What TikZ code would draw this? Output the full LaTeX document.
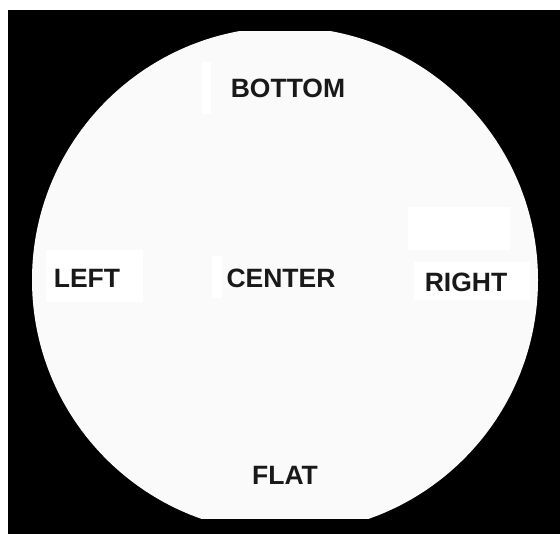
\documentclass[tikz,border=0pt]{standalone}
\usepackage{fontspec}
\setmainfont{Liberation Sans}
\definecolor{waferwhite}{HTML}{FAFAFA}

\begin{document}
\begin{tikzpicture}[x=1pt, y=-1pt,
	   lbl/.style={font=\fontsize{26.5}{30}\selectfont\bfseries, inner sep=0pt, text=black!90},
	   patch/.style={fill=white, draw=none}]
	  % frame: thin white margin, black field
	  \fill[white] (0,0) rectangle (560,534);
	  \fill[black] (8,10) rectangle (560,534);
	  % wafer with the two flats
	  \begin{scope}
	    \clip (0,32) rectangle (560,519);
	    \fill[waferwhite] (285,280) circle (253);
	  \end{scope}
	  % bleached patches round the labels
	  \fill[patch] (202,62) rectangle (211,114);
	  \fill[patch] (46,250) rectangle (143,302);
	  \fill[patch] (408,207) rectangle (510,250);
	  \fill[patch] (414,262) rectangle (530,300);
	  \fill[patch] (212,256) rectangle (222,298);
	  \node[lbl] (bottom) at (288,88) {BOTTOM};
	  \node[lbl] (left) at (87,278) {LEFT};
	  \node[lbl] (center) at (281,278) {CENTER};
	  \node[lbl] (right) at (466,282) {RIGHT};
	  \node[lbl] (flat) at (285,475) {FLAT};
	\end{tikzpicture}
\end{document}
